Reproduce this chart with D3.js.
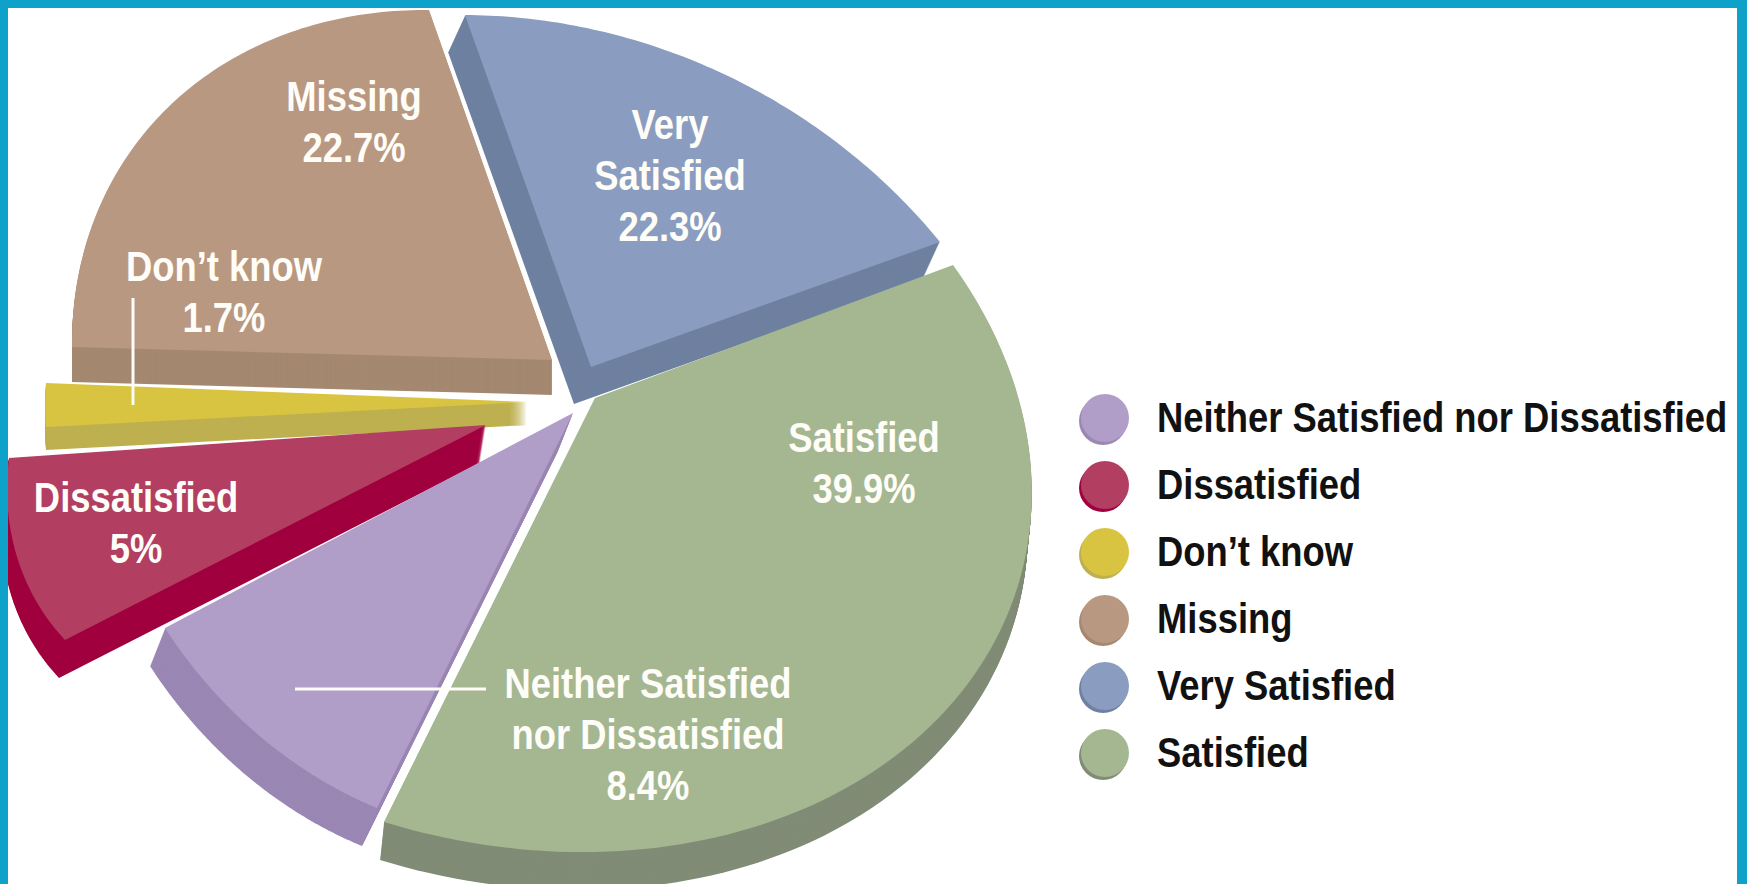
<!DOCTYPE html>
<html><head><meta charset="utf-8">
<script src="https://cdn.jsdelivr.net/npm/d3@7"></script>
<style>
html,body{margin:0;padding:0;background:#fff;}
svg{display:block;}
</style></head><body>
<svg id="chart" width="1747" height="884"></svg>
<script>
// ---------------- DATA ----------------
const categories = ["Neither Satisfied nor Dissatisfied","Dissatisfied","Don\u2019t know","Missing","Very Satisfied","Satisfied"];
const values = [8.4, 5, 1.7, 22.7, 22.3, 39.9];

// ---------------- STYLE / LAYOUT ----------------
const topColors  = ["#b09dc8","#b23e62","#d8c440","#b99882","#8a9dc0","#a4b791"];
const sideColors = ["#9a87b4","#a0003e","#beb050","#a48870","#6f80a0","#808c76"];
const frameColor = "#0ea1c9";
const pieStartDeg = -151.08;   // rotation of the pie (Very Satisfied starts at -15deg)

// perspective "camera" of each exploded slice: apex, start-corner, arc control point(s), end-corner
const proj = {
  "Satisfied":      {apex:[595,398], c0:[953,265], arc:[[1006,618],[751,828]], c1:[384,822], side:[-4,38]},
  "Very Satisfied": {apex:[591,367], c0:[465,15],  cm:[728,76],  c1:[940,242], side:[-17,37]},
  "Missing":        {apex:[552,360], c0:[72,347],  cm:[185,92],  c1:[429,10],  side:[0,35]},
  "Don\u2019t know":{apex:[527,402], c0:[46,427],  cm:null,      c1:[46,383],  side:[0,23]},
  "Dissatisfied":   {apex:[486,425], c0:[65,640],  cm:[18,560],  c1:[9,458],   side:[-6,38]},
  "Neither Satisfied nor Dissatisfied": {apex:[573,413], c0:[377,808], cm:[262,738], c1:[165,628], side:[-15,38]}
};
const drawOrder = ["Missing","Very Satisfied","Don\u2019t know","Dissatisfied","Satisfied","Neither Satisfied nor Dissatisfied"];

const labelCfg = {
  "Missing":        {x:354, y:111, lines:["Missing"]},
  "Very Satisfied": {x:670, y:139, lines:["Very","Satisfied"]},
  "Don\u2019t know":{x:224, y:281, lines:["Don\u2019t know"]},
  "Dissatisfied":   {x:136, y:512, lines:["Dissatisfied"]},
  "Satisfied":      {x:864, y:452, lines:["Satisfied"]},
  "Neither Satisfied nor Dissatisfied": {x:648, y:698, lines:["Neither Satisfied","nor Dissatisfied"]}
};
const leaders = [
  {x1:133, y1:298, x2:133, y2:405},
  {x1:295, y1:689, x2:486, y2:689}
];
const labelFont = "'Liberation Sans','Arial',sans-serif";
const labelSize = 43, lineH = 51;
const legend = {dotX:1105, textX:1157, y0:418, step:67, r:24};
// reference text widths used to condense the font (Frutiger-condensed look)
const widthRefs = [["Neither Satisfied nor Dissatisfied",575],["Missing",131]];

// ---------------- HELPERS ----------------
function homography(src, dst){
  const A=[], b=[];
  for(let i=0;i<4;i++){
    const [x,y]=src[i], [X,Y]=dst[i];
    A.push([x,y,1,0,0,0,-x*X,-y*X]); b.push(X);
    A.push([0,0,0,x,y,1,-x*Y,-y*Y]); b.push(Y);
  }
  const n=8;
  for(let c=0;c<n;c++){
    let p=c; for(let r=c+1;r<n;r++) if(Math.abs(A[r][c])>Math.abs(A[p][c])) p=r;
    [A[c],A[p]]=[A[p],A[c]]; [b[c],b[p]]=[b[p],b[c]];
    for(let r=0;r<n;r++){ if(r===c) continue; const f=A[r][c]/A[c][c];
      for(let k=c;k<n;k++) A[r][k]-=f*A[c][k]; b[r]-=f*b[c]; }
  }
  const h=b.map((v,i)=>v/A[i][i]);
  return ([x,y])=>{const w=h[6]*x+h[7]*y+1; return [(h[0]*x+h[1]*y+h[2])/w,(h[3]*x+h[4]*y+h[5])/w];};
}
function affine(apex,q0,q1,u0,u1){
  const det=u0[0]*u1[1]-u1[0]*u0[1];
  const inv=[[u1[1]/det,-u1[0]/det],[-u0[1]/det,u0[0]/det]];
  const a=[q0[0]-apex[0],q1[0]-apex[0]], c=[q0[1]-apex[1],q1[1]-apex[1]];
  const m00=a[0]*inv[0][0]+a[1]*inv[1][0], m01=a[0]*inv[0][1]+a[1]*inv[1][1];
  const m10=c[0]*inv[0][0]+c[1]*inv[1][0], m11=c[0]*inv[0][1]+c[1]*inv[1][1];
  return ([x,y])=>[apex[0]+m00*x+m01*y, apex[1]+m10*x+m11*y];
}
const unit = a => [Math.sin(a), -Math.cos(a)];

// ---------------- CHART ----------------
const svg = d3.select("#chart");

// condense factor
const probe = svg.append("text").attr("font-family",labelFont).attr("font-weight","bold").attr("font-size",labelSize);
let wSum=0, tSum=0;
widthRefs.forEach(([s,w])=>{ probe.text(s); wSum+=probe.node().getComputedTextLength(); tSum+=w; });
probe.remove();
const sx = tSum/wSum;
const squeeze = (sel,x)=>sel.attr("transform",`translate(${x},0) scale(${sx},1) translate(${-x},0)`);

const data = categories.map((c,i)=>({cat:c, value:values[i], top:topColors[i], side:sideColors[i]}));
const rot = pieStartDeg*Math.PI/180;
const arcs = d3.pie().sort(null).value(d=>d.value).startAngle(rot).endAngle(rot+2*Math.PI)(data);
const line = d3.line().curve(d3.curveLinearClosed);

arcs.forEach(a=>{
  const p = proj[a.data.cat];
  const s=a.startAngle, e=a.endAngle, am=(s+e)/2;
  let H;
  if (p.arc) H = homography([unit(s),unit(s+(e-s)/3),unit(s+2*(e-s)/3),unit(e)],[p.c0,p.arc[0],p.arc[1],p.c1]);
  else if (p.cm) H = homography([[0,0],unit(s),unit(am),unit(e)],[p.apex,p.c0,p.cm,p.c1]);
  else H = affine(p.apex,p.c0,p.c1,unit(s),unit(e));
  const N=90;
  a.outline=[p.apex].concat(d3.range(N+1).map(i=>H(unit(s+(e-s)*i/N))));
  a.layout=p;
});

const gPie = svg.append("g");
drawOrder.forEach(cat=>{
  const a = arcs.find(d=>d.data.cat===cat);
  const g = gPie.append("g").attr("class","slice");
  const [dx,dy]=a.layout.side;
  const steps=Math.ceil(Math.max(Math.abs(dx),Math.abs(dy)));
  g.selectAll("path.side").data(d3.range(steps,0,-1)).join("path")
    .attr("class","side")
    .attr("d",line(a.outline))
    .attr("transform",k=>`translate(${dx*k/steps},${dy*k/steps})`)
    .attr("fill",a.data.side);
  g.append("path").attr("class","top").attr("d",line(a.outline)).attr("fill",a.data.top);
});

// leader lines
svg.append("g").selectAll("line").data(leaders).join("line")
  .attr("x1",d=>d.x1).attr("y1",d=>d.y1).attr("x2",d=>d.x2).attr("y2",d=>d.y2)
  .attr("stroke","#fffdf7").attr("stroke-width",3);

// slice labels
const gLab = svg.append("g").attr("font-family",labelFont).attr("font-weight","bold")
  .attr("font-size",labelSize).attr("fill","#fffdf7").attr("text-anchor","middle");
arcs.forEach(a=>{
  const L = labelCfg[a.data.cat];
  const lines = L.lines.concat([a.data.value+"%"]);
  const t = gLab.append("text").attr("x",L.x).attr("y",L.y);
  lines.forEach((s,i)=>t.append("tspan").attr("x",L.x).attr("y",L.y+i*lineH).text(s));
  squeeze(t,L.x);
});

// legend
const gLeg = svg.append("g");
const items = gLeg.selectAll("g").data(data).join("g")
  .attr("transform",(d,i)=>`translate(0,${legend.y0+i*legend.step})`);
items.append("circle").attr("cx",legend.dotX-2).attr("cy",3).attr("r",legend.r).attr("fill",d=>d.side);
items.append("circle").attr("cx",legend.dotX).attr("cy",0).attr("r",legend.r).attr("fill",d=>d.top);
items.append("text").attr("x",legend.textX).attr("y",14)
  .attr("font-family",labelFont).attr("font-weight","bold").attr("font-size",labelSize)
  .attr("fill","#111").text(d=>d.cat)
  .each(function(){ squeeze(d3.select(this),legend.textX); });

// frame
svg.append("rect").attr("x",0).attr("y",0).attr("width",1747).attr("height",8).attr("fill",frameColor);
svg.append("rect").attr("x",0).attr("y",0).attr("width",8).attr("height",884).attr("fill",frameColor);
svg.append("rect").attr("x",1737).attr("y",0).attr("width",10).attr("height",884).attr("fill",frameColor);
</script>
</body></html>
